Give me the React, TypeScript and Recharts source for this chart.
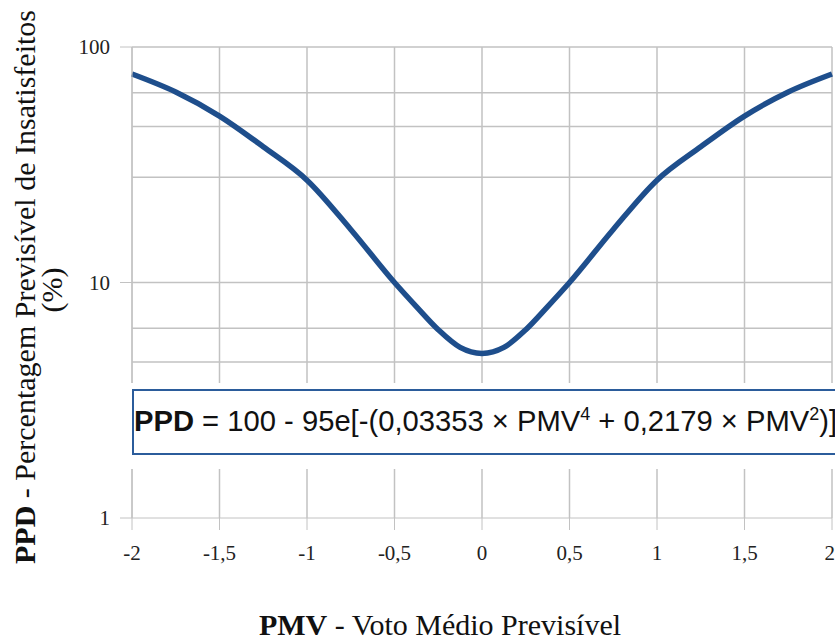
import { LineChart, Line, XAxis, YAxis, CartesianGrid } from 'recharts';

// PMV values and PPD
const pmv = [-2, -1.75, -1.5, -1.25, -1, -0.75, -0.5, -0.375, -0.25, -0.125, 0, 0.125, 0.25, 0.375, 0.5, 0.75, 1, 1.25, 1.5, 1.75, 2];
const ppd = [76.8, 64.4, 50.9, 37.7, 27.2, 16.8, 10.0, 7.9, 6.3, 5.3, 5.0, 5.3, 6.3, 7.9, 10.0, 16.8, 27.2, 37.7, 50.9, 64.4, 76.8];

const xTicks = [-2, -1.5, -1, -0.5, 0, 0.5, 1, 1.5, 2];
const yTicks = [1, 10, 100];
const yGrid = [2.8, 4.6, 6.4, 8.2, 10, 28, 46, 64, 82, 100];

const data = pmv.map((x, i) => ({ x, y: ppd[i] }));

const serif = 'Liberation Serif';
const gridColor = '#c2c2c2';
const tickStyle = { fontSize: 21, fontFamily: serif, fill: '#222' };

export default function App() {
  return (
    <div style={{ position: 'absolute', left: 0, top: 0, width: 835, height: 640, overflow: 'hidden', background: '#fff' }}>
      <LineChart width={835} height={640} data={data} margin={{ top: 47, right: 3, bottom: 82, left: 0 }}>
        <CartesianGrid
          stroke={gridColor}
          strokeWidth={1.5}
          horizontalValues={yGrid}
          verticalValues={xTicks}
        />
        <XAxis
          dataKey="x"
          type="number"
          domain={[-2, 2]}
          ticks={xTicks}
          height={40}
          tickSize={12}
          tickMargin={15}
          stroke={gridColor}
          tick={tickStyle}
          tickFormatter={(v) => String(v).replace('.', ',')}
        />
        <YAxis
          type="number"
          scale="log"
          domain={[1, 100]}
          allowDataOverflow
          ticks={yTicks}
          width={132}
          tickSize={12}
          tickMargin={10}
          stroke={gridColor}
          tick={tickStyle}
        />
        <Line
          dataKey="y"
          type="monotone"
          stroke="#1e4e8c"
          strokeWidth={5.5}
          dot={false}
          isAnimationActive={false}
        />
      </LineChart>

      <svg width={835} height={640} style={{ position: 'absolute', left: 0, top: 0, pointerEvents: 'none' }}>
        {/* equation box */}
        <rect x={124} y={383} width={720} height={86} fill="#fff" />
        <rect x={133} y={390} width={720} height={64} fill="#fff" stroke="#2b5c9b" strokeWidth={2} />
        <text x={134} y={431} fontFamily="Liberation Sans" fontSize={29.2} fill="#111">
          <tspan fontWeight="bold">PPD</tspan>
          <tspan> = 100 - 95e[-(0,03353 × PMV</tspan>
          <tspan dy={-11} fontSize={18}>4</tspan>
          <tspan dy={11}> + 0,2179 × PMV</tspan>
          <tspan dy={-11} fontSize={18}>2</tspan>
          <tspan dy={11}>)]</tspan>
        </text>

        {/* axis titles */}
        <text transform="translate(35,287) rotate(-90)" textAnchor="middle" fontFamily={serif} fontSize={30} fill="#111">
          <tspan fontWeight="bold">PPD</tspan>
          <tspan> - Percentagem Previsível de Insatisfeitos</tspan>
        </text>
        <text transform="translate(62,290) rotate(-90)" textAnchor="middle" fontFamily={serif} fontSize={30} fill="#111">
          (%)
        </text>
        <text x={440} y={635} textAnchor="middle" fontFamily={serif} fontSize={30} fill="#111">
          <tspan fontWeight="bold">PMV</tspan>
          <tspan> - Voto Médio Previsível</tspan>
        </text>
      </svg>
    </div>
  );
}
